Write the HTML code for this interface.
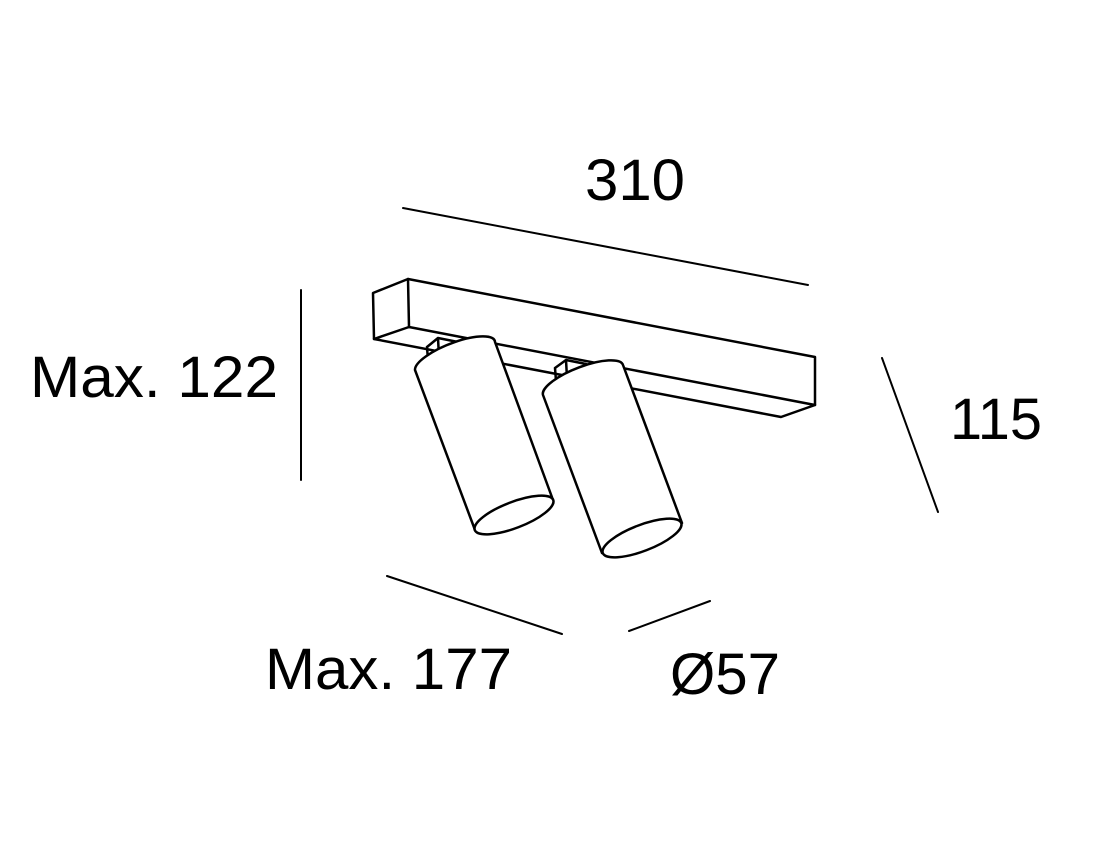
<!DOCTYPE html>
<html><head><style>
html,body{margin:0;padding:0;background:#fff;}
svg{display:block;}
text{font-family:"Liberation Sans",sans-serif;fill:#000;}
</style></head><body>
<svg width="1098" height="846" viewBox="0 0 1098 846" xmlns="http://www.w3.org/2000/svg">
<g stroke="#000" stroke-width="2" fill="none" stroke-linecap="round" stroke-linejoin="round">
<line x1="403" y1="208" x2="808" y2="285"/>
<line x1="301" y1="290" x2="301" y2="480"/>
<line x1="882" y1="358" x2="938" y2="512"/>
<line x1="387" y1="576" x2="562" y2="634"/>
<line x1="629" y1="631" x2="710" y2="601"/>
<polygon points="373,293 408,279 815,357 815,405 781,417 374,339" fill="#fff" stroke-width="2.5"/>
<line x1="408" y1="279" x2="409" y2="327" stroke-width="2.5"/>
<line x1="409" y1="327" x2="815" y2="405" stroke-width="2.5"/>
<line x1="374" y1="339" x2="409" y2="327" stroke-width="2.5"/>
<path d="M427,347 L428,360 M427,347 L438,338 L458,342 M438,338 L439,357" stroke-width="2.5"/>
<path d="M555,368 L556,381 M555,368 L566,360 L586,364 M566,360 L567,378" stroke-width="2.5"/>
<path d="M415,370 A42 13 -21 0 1 495,342 L553,500 L475,530 Z" fill="#fff" stroke-width="2.5"/>
<ellipse cx="514" cy="515" rx="42" ry="13" transform="rotate(-21 514 515)" fill="#fff" stroke-width="2.5"/>
<path d="M543,395 A42 13 -21 0 1 623,365 L682,523 L602,553 Z" fill="#fff" stroke-width="2.5"/>
<ellipse cx="642" cy="538" rx="42" ry="13" transform="rotate(-21 642 538)" fill="#fff" stroke-width="2.5"/>
</g>
<text x="585" y="200" font-size="58" textLength="100" lengthAdjust="spacingAndGlyphs">310</text>
<text x="30" y="397" font-size="58" textLength="248" lengthAdjust="spacingAndGlyphs">Max. 122</text>
<text x="950" y="439" font-size="58" textLength="92" lengthAdjust="spacingAndGlyphs">115</text>
<text x="265" y="689" font-size="58" textLength="247" lengthAdjust="spacingAndGlyphs">Max. 177</text>
<text x="670" y="694" font-size="58" textLength="110" lengthAdjust="spacingAndGlyphs">Ø57</text>
</svg>
</body></html>
